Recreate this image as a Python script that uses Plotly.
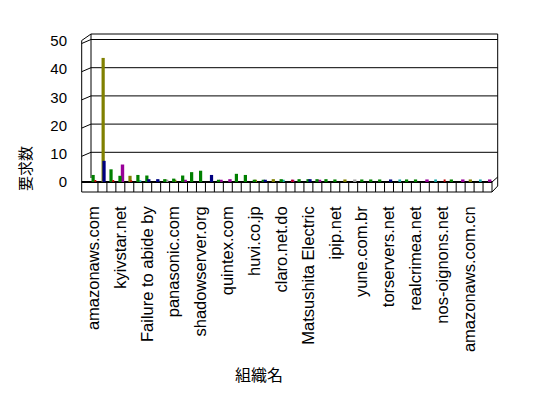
import plotly.graph_objects as go

# ---- data ----
n_cat = 45
label_idx = [0, 3, 6, 9, 12, 15, 18, 21, 24, 27, 30, 33, 36, 39, 42]
labels = ["amazonaws.com", "kyivstar.net", "Failure to abide by", "panasonic.com",
          "shadowserver.org", "quintex.com", "huvi.co.jp", "claro.net.do",
          "Matsushita Electric", "ipip.net", "yune.com.br", "torservers.net",
          "realcrimea.net", "nos-oignons.net", "amazonaws.com.cn"]
y_ticks = [0, 10, 20, 30, 40, 50]

# values per series: {category index: value}
olive = {1: 44, 4: 2.2, 8: 0.8, 9: 0.8, 18: 0.8, 20: 1.0, 28: 0.9, 42: 0.9}
navy = {1: 7.5, 6: 1.0, 7: 1.0, 13: 2.5, 19: 0.8, 24: 1.0, 33: 0.9}
green = {0: 2.5, 2: 4.5, 3: 2.2, 5: 2.5, 6: 2.3, 8: 1.0, 9: 1.2, 10: 2.3, 11: 3.5,
         12: 4.0, 14: 0.8, 16: 2.9, 17: 2.5, 18: 0.8, 19: 0.8, 21: 1.0, 23: 1.0,
         24: 1.0, 25: 1.0, 26: 1.0, 27: 0.9, 30: 0.9, 31: 0.9, 32: 0.9, 35: 0.9,
         36: 0.9, 40: 0.9}
red = {0: 0.7, 2: 0.7, 4: 0.6, 22: 0.8, 39: 0.9}
magenta = {3: 6.2, 10: 0.8, 14: 0.8, 15: 1.0, 22: 0.8, 25: 0.8, 37: 0.9, 41: 0.9, 44: 0.9}
teal = {5: 0.6, 7: 0.8, 21: 0.8, 34: 0.9, 38: 0.9, 43: 0.9}
gray = {8: 0.8, 29: 0.9}

series = [  # drawn back to front
    ("olive", olive, "#808000", -0.10, 0.36),
    ("magenta", magenta, "#990099", 0.05, 0.38),
    ("teal", teal, "#13A6A6", 0.05, 0.30),
    ("gray", gray, "#A0A0A0", 0.00, 0.36),
    ("green", green, "#008000", -0.22, 0.36),
    ("navy", navy, "#000080", 0.00, 0.36),
    ("red", red, "#C00000", 0.10, 0.22),
]

FONT = "Liberation Sans, Arial, Noto Sans CJK JP, sans-serif"
JFONT = "Noto Sans CJK JP, sans-serif"

fig = go.Figure()
for name, vals, col, off, w in series:
    xs = sorted(vals.keys())
    fig.add_trace(go.Bar(
        x=xs, y=[vals[k] for k in xs], name=name,
        marker=dict(color=col, line=dict(width=0)),
        offset=off, width=w, hoverinfo="y"))

# ---- layout geometry (pixels) ----
W, H = 548, 398
L, R, T, B = 89, 56, 41, 216
pw, ph = W - L - R, H - T - B
y0px = H - B


def px(x, y):
    return (x - L) / pw, (y0px - y) / ph


def line(x0, y0, x1, y1, w=1):
    a, b = px(x0, y0)
    c, d = px(x1, y1)
    return dict(type="line", xref="paper", yref="paper", x0=a, y0=b, x1=c, y1=d,
                line=dict(color="black", width=w), layer="below")


def ypx(v):
    return y0px - v * ph / 50.0


shapes = []
fx, bx, rx_front, rx_back = 81.7, 91.0, L + pw, 497.7
top_back = 34
# back wall gridlines and left-wall slants
for v in y_ticks[1:]:
    gy = ypx(v) - 1.5
    shapes.append(line(bx, gy, rx_back, gy))
    shapes.append(line(fx, gy + 4, bx, gy))
# walls
shapes.append(line(fx, 40.5, fx, y0px + 10))
shapes.append(line(bx, top_back, bx, y0px - 4))
shapes.append(line(fx, 40.5, bx, top_back))
shapes.append(line(bx, top_back, rx_back, top_back))
shapes.append(line(rx_back, top_back, rx_back, y0px + 4))
# floor
shapes.append(line(fx, y0px, rx_front, y0px, 2))
shapes.append(line(fx, y0px + 10, rx_front, y0px + 10))
for k in range(1, n_cat + 1):
    xk = L + pw * k / n_cat
    shapes.append(line(xk, y0px, xk, y0px + 10))
shapes.append(line(rx_front, y0px + 10, rx_back, y0px + 4))
shapes.append(line(rx_front, y0px, rx_back, y0px - 5))

fig.update_layout(
    width=W, height=H, autosize=False,
    margin=dict(l=L, r=R, t=T, b=B, pad=0),
    paper_bgcolor="white", plot_bgcolor="rgba(0,0,0,0)",
    showlegend=False, barmode="overlay",
    shapes=shapes,
    xaxis=dict(range=[-0.5, n_cat - 0.5], tickmode="array", tickvals=label_idx,
               ticktext=labels, tickangle=-90, showgrid=False, zeroline=False,
               showline=False, ticks="", ticklabelstandoff=20,
               tickfont=dict(family=FONT, size=16.5, color="black"), fixedrange=True),
    yaxis=dict(range=[0, 50], tickmode="array", tickvals=y_ticks, showgrid=False,
               zeroline=False, showline=False, ticks="", ticklabelstandoff=21,
               tickfont=dict(family=FONT, size=15, color="black"), fixedrange=True),
    annotations=[
        dict(text="組織名", xref="paper", yref="paper",
             x=px(259, 373.5)[0], y=px(259, 373.5)[1], showarrow=False,
             font=dict(family=JFONT, size=16, color="black"),
             xanchor="center", yanchor="middle"),
        dict(text="要求数", xref="paper", yref="paper",
             x=px(24, 169)[0], y=px(24, 169)[1], showarrow=False, textangle=-90,
             font=dict(family=JFONT, size=15, color="black"),
             xanchor="center", yanchor="middle"),
    ],
)

fig.write_html("out.html", config={"displayModeBar": False, "staticPlot": True},
               post_script="document.body.style.margin='0';document.body.style.overflow='hidden';")
